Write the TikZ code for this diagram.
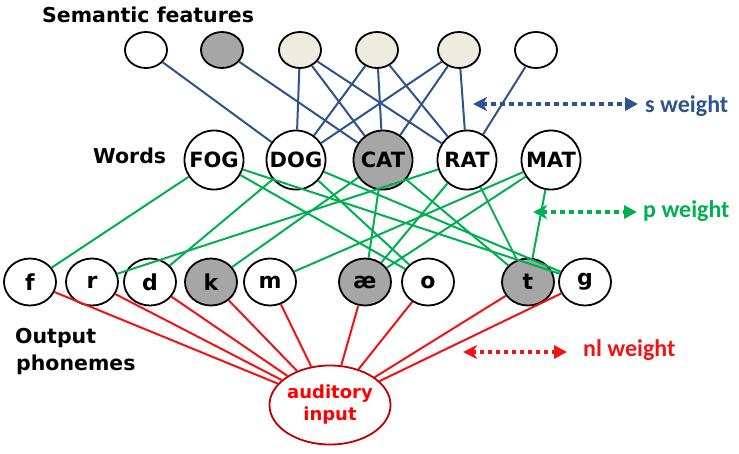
\documentclass[tikz,border=0pt]{standalone}
\usepackage{fontspec}
\setmainfont{DejaVu Sans}
\newfontfamily\calib{Carlito}
\usetikzlibrary{shapes.geometric,arrows.meta}
\definecolor{sblue}{RGB}{46,84,140}
\definecolor{pgreen}{RGB}{0,176,80}
\definecolor{nred}{RGB}{238,20,20}
\definecolor{dred}{RGB}{192,0,0}
\definecolor{gfill}{RGB}{166,166,166}
\definecolor{bfill}{RGB}{238,236,225}
\begin{document}
\begin{tikzpicture}[x=1pt,y=-1pt,
  sem/.style={ellipse, draw=black, line width=1.8pt, minimum width=42pt, minimum height=36pt, inner sep=0pt, fill=white},
  word/.style={circle, draw=black, line width=1.8pt, minimum size=59pt, inner sep=0pt, fill=white, font=\bfseries\fontsize{21}{21}\selectfont},
  phon/.style={ellipse, draw=black, line width=1.8pt, minimum width=52pt, minimum height=47pt, inner sep=0pt, fill=white, font=\bfseries\fontsize{22}{22}\selectfont},
  sline/.style={draw=sblue, line width=2pt},
  pline/.style={draw=pgreen, line width=2pt},
  nline/.style={draw=nred, line width=2pt},
  lbl/.style={anchor=base west, inner sep=0pt, font=\bfseries\fontsize{20.5}{20.5}\selectfont},
  wlbl/.style={anchor=base west, inner sep=0pt, font=\calib\bfseries\fontsize{24}{24}\selectfont},
  dotarrow/.style={line width=4.5pt, dash pattern=on 4.5pt off 4.5pt, {Stealth[length=14pt,width=14pt,inset=4pt]}-{Triangle[length=13pt,width=13pt]}}
]
\useasboundingbox (0,0) rectangle (739,453);

% semantic features
\node[sem] (s1) at (146,50) {};
\node[sem, fill=gfill] (s2) at (222,50) {};
\node[sem, fill=bfill] (s3) at (300,50) {};
\node[sem, fill=bfill] (s4) at (377,50) {};
\node[sem, fill=bfill] (s5) at (459,50) {};
\node[sem] (s6) at (536,50) {};

% words
\node[word] (fog) at (214,160) {FOG};
\node[word] (dog) at (296,160) {DOG};
\node[word, fill=gfill] (cat) at (383,160) {CAT};
\node[word] (rat) at (467,160) {RAT};
\node[word] (mat) at (551,160) {MAT};

% phonemes
\node[phon] (pf) at (30,282) {f};
\node[phon] (pr) at (92,282) {r};
\node[phon] (pd) at (150,282) {d};
\node[phon, fill=gfill] (pk) at (211,282) {k};
\node[phon] (pm) at (270,282) {m};
\node[phon, fill=gfill] (pae) at (365,282) {æ};
\node[phon] (po) at (428,282) {o};
\node[phon, fill=gfill] (pt) at (528,282) {t};
\node[phon] (pg) at (585,282) {g};

% auditory input
\node[ellipse, draw=dred, line width=1.8pt, minimum width=119pt, minimum height=79pt, inner sep=0pt, fill=white,
      text=red, align=center, font=\bfseries\fontsize{18}{22}\selectfont] (aud) at (330,405) {auditory\\input};

% labels
\node[lbl] (tsem) at (42,22) {Semantic features};
\node[lbl] (twords) at (93,163) {Words};
\node[lbl] (tout) at (15,343) {Output};
\node[lbl] (tphon) at (16,370) {phonemes};

% semantic -> word connections
\draw[sline] (s1) -- (dog);
\draw[sline] (s2) -- (cat);
\foreach \s in {s3,s4,s5} {
  \draw[sline] (\s) -- (dog);
  \draw[sline] (\s) -- (cat);
  \draw[sline] (\s) -- (rat);
}
\draw[sline] (s6) -- (rat);

% word -> phoneme connections
\draw[pline] (fog) -- (pf);
\draw[pline] (fog) -- (po);
\draw[pline] (fog) -- (pg);
\draw[pline] (dog) -- (pd);
\draw[pline] (dog) -- (po);
\draw[pline] (dog) -- (pg);
\draw[pline] (cat) -- (pk);
\draw[pline] (cat) -- (pae);
\draw[pline] (cat) -- (pt);
\draw[pline] (rat) -- (pr);
\draw[pline] (rat) -- (pae);
\draw[pline] (rat) -- (pt);
\draw[pline] (mat) -- (pm);
\draw[pline] (mat) -- (pae);
\draw[pline] (mat) -- (pt);

% phoneme -> auditory input
\foreach \p in {pf,pr,pd,pk,pm,pae,po,pt,pg} {
  \draw[nline] (\p) -- (aud);
}

% weight arrows
\coordinate (sL) at (473,104);
\coordinate (sR) at (638,104);
\coordinate (pL) at (533,212);
\coordinate (pR) at (637,212);
\coordinate (nL) at (463,352);
\coordinate (nR) at (567,352);
\draw[dotarrow, sblue] (sL) -- (sR);
\draw[dotarrow, pgreen] (pL) -- (pR);
\draw[dotarrow, nred, line width=4pt, dash pattern=on 4pt off 4pt] (nL) -- (nR);
\node[wlbl, text=sblue] (ts) at (645,112) {s weight};
\node[wlbl, text=pgreen] (tp) at (643,217) {p weight};
\node[wlbl, text=nred] (tn) at (583,356) {nl weight};
\end{tikzpicture}
\end{document}
